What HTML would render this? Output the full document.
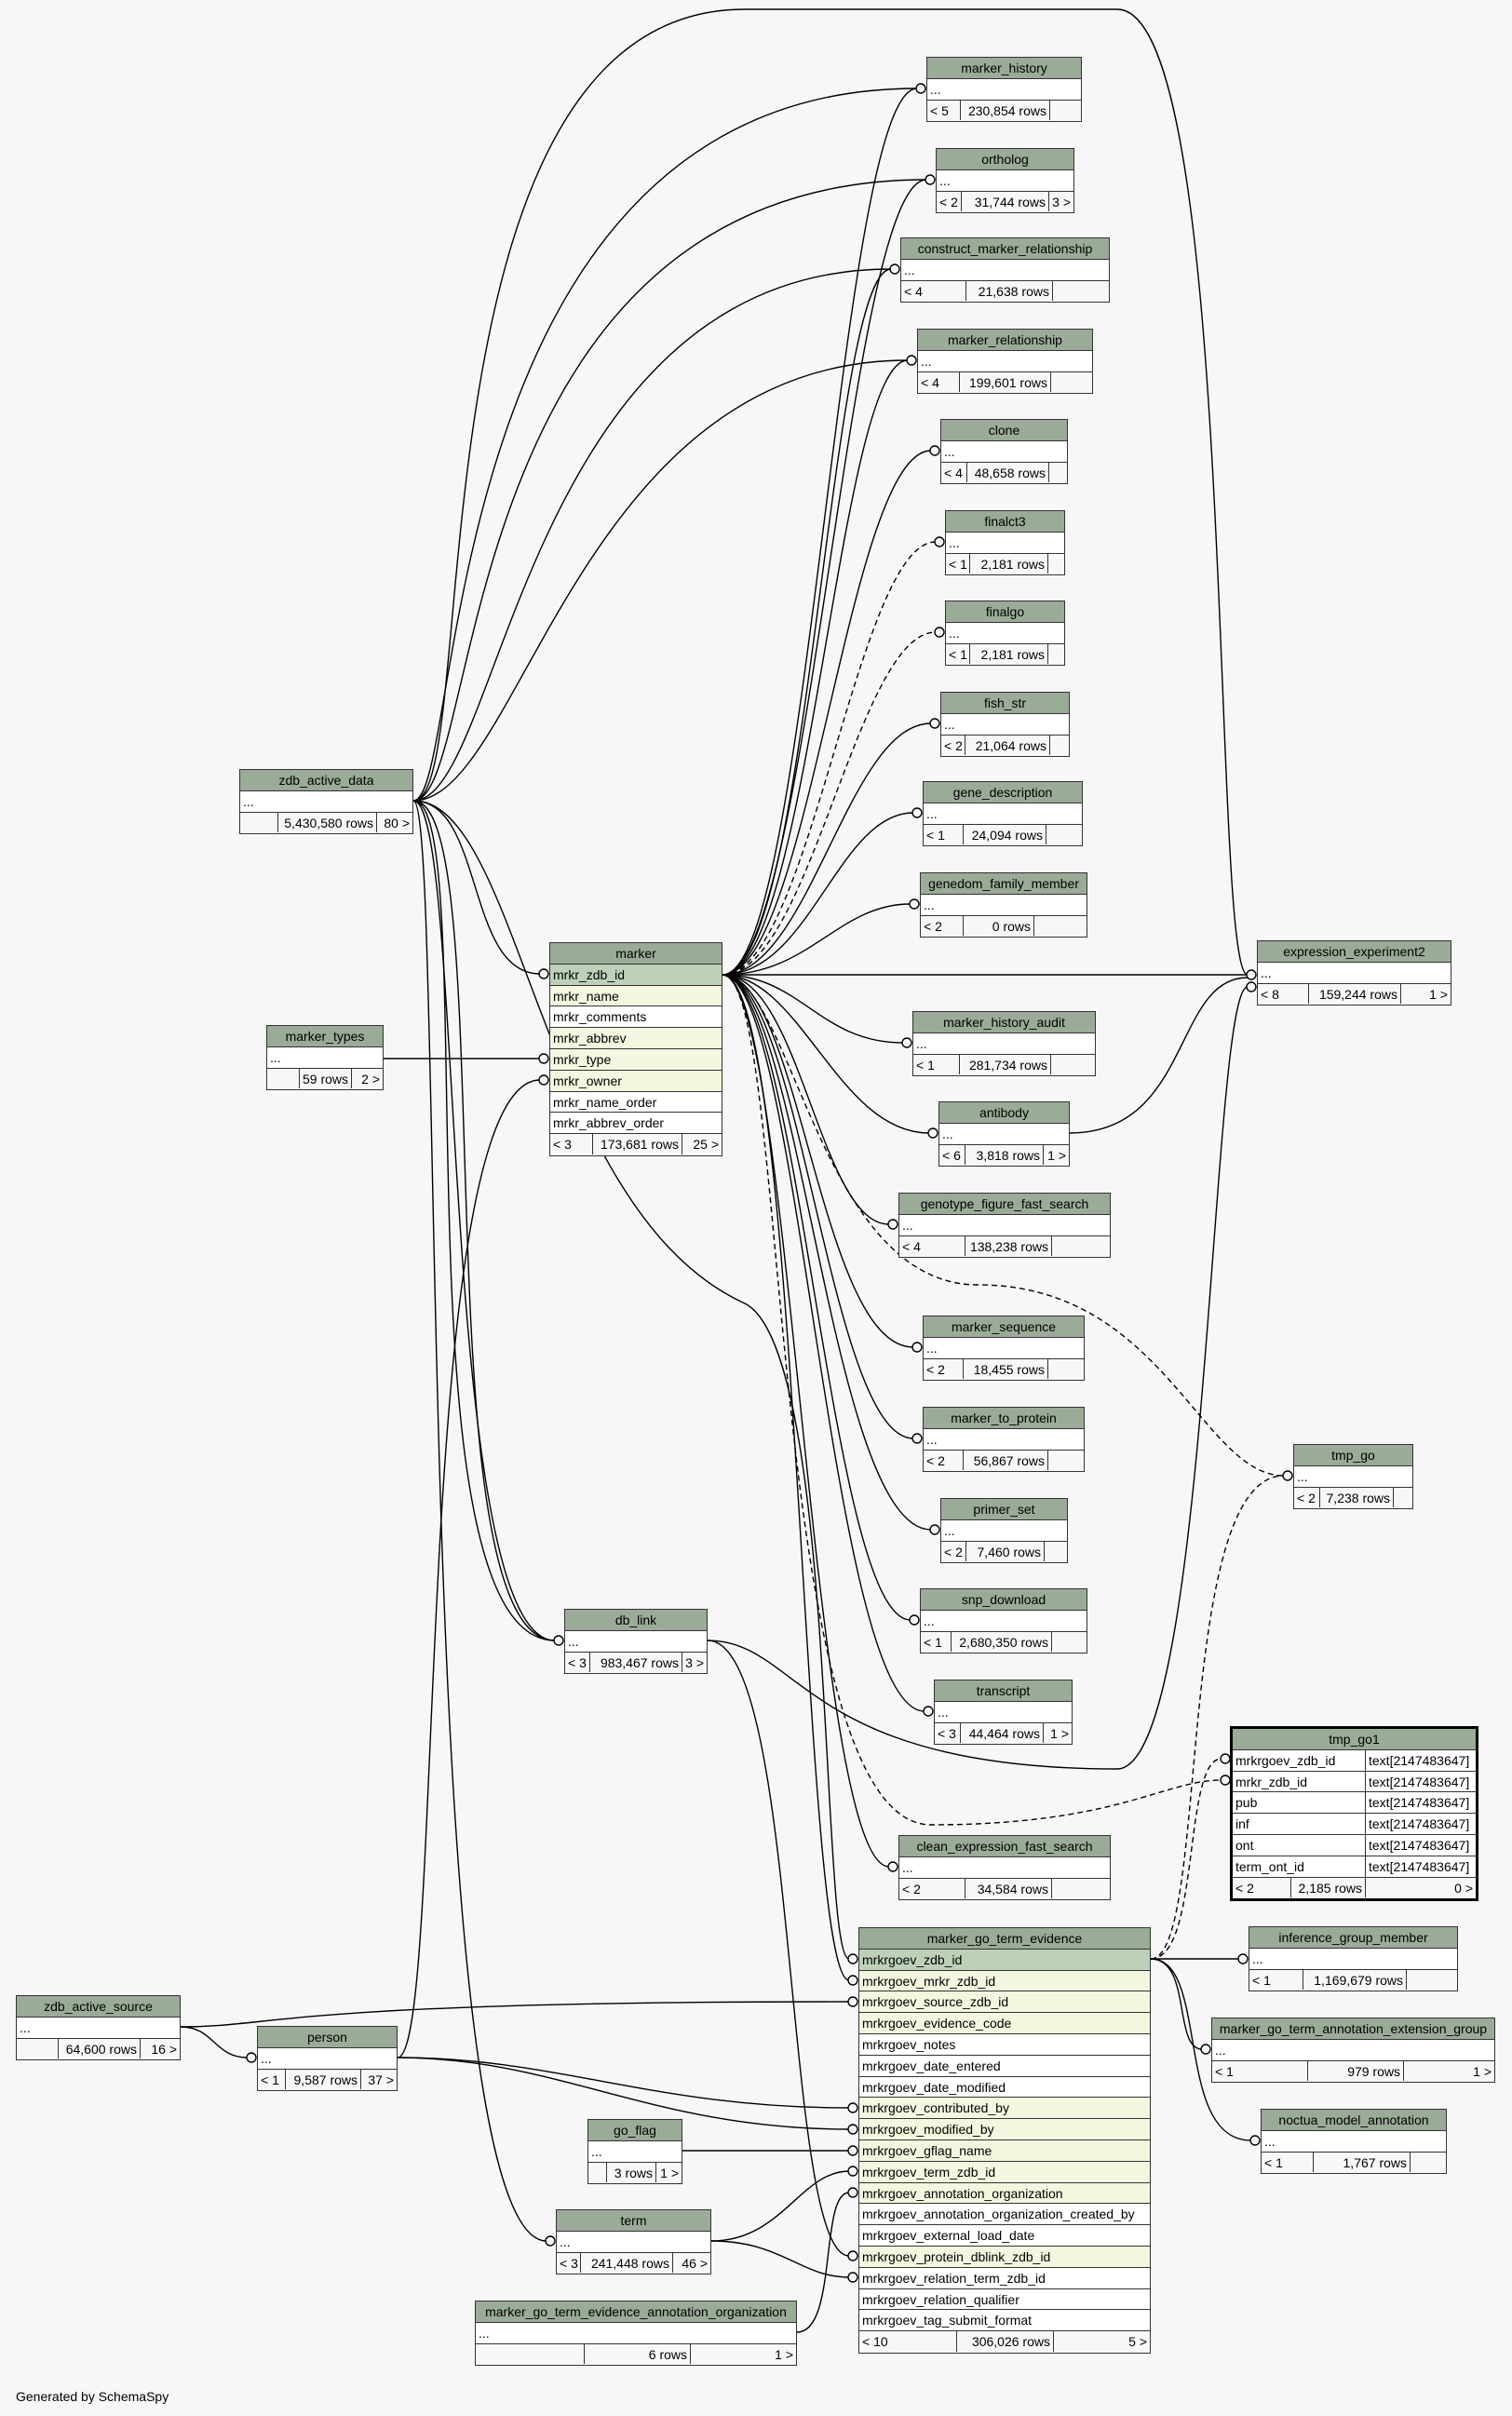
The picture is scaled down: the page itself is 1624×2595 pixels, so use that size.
<!DOCTYPE html>
<html><head><meta charset="utf-8">
<style>
body{margin:0;width:1624px;height:2595px;background:#f7f7f7;position:relative;overflow:hidden;font-family:"Liberation Sans",sans-serif;font-size:14px;color:#000}
.t{position:absolute;border:1.5px solid #333;background:#fff;box-sizing:border-box}
.t.b{border:3px solid #000}
.t div{height:22.8px;line-height:22px;box-sizing:border-box;border-bottom:1px solid #333;white-space:nowrap;overflow:hidden}
.t div:last-child{border-bottom:none}
.h{background:#9aab97;text-align:center}
.r{padding-left:3px}
.k{background:#bed1b8}
.f{background:#f4f7df}
.t .ft{display:flex;background:#f7f7f7;padding:0}
.ft span{display:block;border-right:1px solid #333;box-sizing:border-box;padding:0 3px;height:21.8px}
.ft span:last-child{border-right:none;flex:1;text-align:right}
.ft span:nth-child(2){text-align:right}
.t .two{display:flex;padding:0}
.two span{display:block;box-sizing:border-box;padding:0 3px;height:21.8px}
.two span:first-child{width:143px;border-right:1px solid #333}
svg{position:absolute;left:0;top:0}
#gen{position:absolute;left:17px;top:2566px}
</style></head><body>
<svg width="1624" height="2595" fill="none" stroke="#000" stroke-width="1.4">
<g>
<path d="M776,1047 C870,1047 900,95 985,95"/>
<path d="M776,1047 C870,1047 910,193 995,193"/>
<path d="M776,1047 C870,1047 890,289 957,289"/>
<path d="M776,1047 C870,1047 900,387 975,387"/>
<path d="M776,1047 C870,1047 910,484 1000,484"/>
<path d="M776,1047 C870,1047 920,582 1005,582" stroke-dasharray="6,4"/>
<path d="M776,1047 C870,1047 920,679 1005,679" stroke-dasharray="6,4"/>
<path d="M776,1047 C870,1047 910,777 1000,777"/>
<path d="M776,1047 C870,1047 900,873 981,873"/>
<path d="M776,1047 C870,1047 900,971 978,971"/>
<path d="M776,1047 L1340,1047"/>
<path d="M776,1047 C860,1047 880,1120 970,1120"/>
<path d="M776,1047 C860,1047 900,1217 998,1217"/>
<path d="M776,1047 C860,1047 880,1315 955,1315"/>
<path d="M776,1047 C860,1047 880,1447 981,1447"/>
<path d="M776,1047 C860,1047 890,1545 981,1545"/>
<path d="M776,1047 C860,1047 890,1643 1000,1643"/>
<path d="M776,1047 C860,1047 890,1740 978,1740"/>
<path d="M776,1047 C860,1047 890,1838 993,1838"/>
<path d="M776,1047 C850,1047 870,2005 955,2005"/>
<path d="M776,1047 C850,1047 880,1380 1050,1380 C1250,1380 1290,1585 1379,1585" stroke-dasharray="6,4"/>
<path d="M776,1047 C850,1047 820,1960 1000,1960 C1200,1960 1250,1912 1312,1912" stroke-dasharray="6,4"/>
<path d="M776,1047 C860,1047 860,2127 912,2127"/>
<path d="M444,860 C500,860 460,95 985,95"/>
<path d="M444,860 C520,860 480,193 995,193"/>
<path d="M444,860 C540,860 560,289 957,289"/>
<path d="M444,860 C560,860 620,387 975,387"/>
<path d="M444,860 C520,860 430,10 800,10 L1200,10 C1330,10 1300,1047 1340,1047"/>
<path d="M444,860 C520,860 500,1046 580,1046"/>
<path d="M444,860 C520,860 420,1762 596,1762"/>
<path d="M444,860 C500,860 470,1762 596,1762"/>
<path d="M444,860 C540,860 450,1762 596,1762"/>
<path d="M444,860 C480,860 440,2407 587,2407"/>
<path d="M444,860 C560,860 580,1300 800,1400 C900,1450 880,2104 912,2104"/>
<path d="M412,1137 L580,1137"/>
<path d="M427,2210 C480,2210 440,1160 580,1160"/>
<path d="M427,2210 C600,2210 700,2264 912,2264"/>
<path d="M427,2210 C600,2210 700,2287 912,2287"/>
<path d="M194,2177 C230,2177 230,2210 266,2210"/>
<path d="M194,2177 C300,2177 300,2150 912,2150"/>
<path d="M733,2310 L912,2310"/>
<path d="M764,2407 C840,2407 860,2332 912,2332"/>
<path d="M764,2407 C840,2407 860,2446 912,2446"/>
<path d="M856,2505 C900,2505 880,2355 912,2355"/>
<path d="M760,1762 C860,1762 840,2423 912,2423"/>
<path d="M760,1762 C860,1762 860,1900 1200,1900 C1300,1900 1300,1060 1340,1060"/>
<path d="M1149,1217 C1280,1217 1260,1050 1340,1050"/>
<path d="M1236,2104 L1331,2104"/>
<path d="M1236,2104 C1280,2104 1260,2201 1291,2201"/>
<path d="M1236,2104 C1300,2104 1260,2299 1344,2299"/>
<path d="M1236,2104 C1290,2104 1270,1889 1312,1889" stroke-dasharray="6,4"/>
<path d="M1236,2104 C1300,2104 1260,1585 1379,1585" stroke-dasharray="6,4"/>
</g>
<g fill="#f7f7f7">
<circle cx="989" cy="95" r="5"/><circle cx="999" cy="193" r="5"/><circle cx="961" cy="289" r="5"/><circle cx="979" cy="387" r="5"/>
<circle cx="1004" cy="484" r="5"/><circle cx="1009" cy="582" r="5"/><circle cx="1009" cy="679" r="5"/><circle cx="1004" cy="777" r="5"/>
<circle cx="985" cy="873" r="5"/><circle cx="982" cy="971" r="5"/><circle cx="1344" cy="1047" r="5"/><circle cx="974" cy="1120" r="5"/>
<circle cx="1002" cy="1217" r="5"/><circle cx="959" cy="1315" r="5"/><circle cx="985" cy="1447" r="5"/><circle cx="985" cy="1545" r="5"/>
<circle cx="1004" cy="1643" r="5"/><circle cx="982" cy="1740" r="5"/><circle cx="997" cy="1838" r="5"/><circle cx="959" cy="2005" r="5"/>
<circle cx="1383" cy="1585" r="5"/><circle cx="1316" cy="1912" r="5"/><circle cx="1316" cy="1889" r="5"/>
<circle cx="584" cy="1046" r="5"/><circle cx="584" cy="1137" r="5"/><circle cx="584" cy="1160" r="5"/>
<circle cx="600" cy="1762" r="5"/><circle cx="591" cy="2407" r="5"/><circle cx="270" cy="2210" r="5"/>
<circle cx="916" cy="2104" r="5"/><circle cx="916" cy="2127" r="5"/><circle cx="916" cy="2150" r="5"/><circle cx="916" cy="2264" r="5"/>
<circle cx="916" cy="2287" r="5"/><circle cx="916" cy="2310" r="5"/><circle cx="916" cy="2332" r="5"/><circle cx="916" cy="2355" r="5"/>
<circle cx="916" cy="2423" r="5"/><circle cx="916" cy="2446" r="5"/>
<circle cx="1335" cy="2104" r="5"/><circle cx="1295" cy="2201" r="5"/><circle cx="1348" cy="2299" r="5"/>
<circle cx="1344" cy="1060" r="5"/>
</g>
</svg>

<div class="t" style="left:995px;top:61px;width:167px"><div class="h">marker_history</div><div class="r">...</div><div class="ft"><span style="width:36px">&lt; 5</span><span style="width:96px">230,854 rows</span><span></span></div></div>
<div class="t" style="left:1005px;top:159px;width:149px"><div class="h">ortholog</div><div class="r">...</div><div class="ft"><span style="width:27px">&lt; 2</span><span style="width:94px">31,744 rows</span><span>3 &gt;</span></div></div>
<div class="t" style="left:967px;top:255px;width:225px"><div class="h">construct_marker_relationship</div><div class="r">...</div><div class="ft"><span style="width:70px">&lt; 4</span><span style="width:93px">21,638 rows</span><span></span></div></div>
<div class="t" style="left:985px;top:353px;width:189px"><div class="h">marker_relationship</div><div class="r">...</div><div class="ft"><span style="width:45px">&lt; 4</span><span style="width:98px">199,601 rows</span><span></span></div></div>
<div class="t" style="left:1010px;top:450px;width:137px"><div class="h">clone</div><div class="r">...</div><div class="ft"><span style="width:28px">&lt; 4</span><span style="width:88px">48,658 rows</span><span></span></div></div>
<div class="t" style="left:1015px;top:548px;width:129px"><div class="h">finalct3</div><div class="r">...</div><div class="ft"><span style="width:26px">&lt; 1</span><span style="width:84px">2,181 rows</span><span></span></div></div>
<div class="t" style="left:1015px;top:645px;width:129px"><div class="h">finalgo</div><div class="r">...</div><div class="ft"><span style="width:26px">&lt; 1</span><span style="width:84px">2,181 rows</span><span></span></div></div>
<div class="t" style="left:1010px;top:743px;width:139px"><div class="h">fish_str</div><div class="r">...</div><div class="ft"><span style="width:26px">&lt; 2</span><span style="width:91px">21,064 rows</span><span></span></div></div>
<div class="t" style="left:991px;top:839px;width:172px"><div class="h">gene_description</div><div class="r">...</div><div class="ft"><span style="width:43px">&lt; 1</span><span style="width:89px">24,094 rows</span><span></span></div></div>
<div class="t" style="left:988px;top:937px;width:180px"><div class="h">genedom_family_member</div><div class="r">...</div><div class="ft"><span style="width:46px">&lt; 2</span><span style="width:76px">0 rows</span><span></span></div></div>
<div class="t" style="left:980px;top:1086px;width:197px"><div class="h">marker_history_audit</div><div class="r">...</div><div class="ft"><span style="width:50px">&lt; 1</span><span style="width:98px">281,734 rows</span><span></span></div></div>
<div class="t" style="left:1008px;top:1183px;width:141px"><div class="h">antibody</div><div class="r">...</div><div class="ft"><span style="width:28px">&lt; 6</span><span style="width:84px">3,818 rows</span><span>1 &gt;</span></div></div>
<div class="t" style="left:965px;top:1281px;width:228px"><div class="h">genotype_figure_fast_search</div><div class="r">...</div><div class="ft"><span style="width:71px">&lt; 4</span><span style="width:93px">138,238 rows</span><span></span></div></div>
<div class="t" style="left:991px;top:1413px;width:174px"><div class="h">marker_sequence</div><div class="r">...</div><div class="ft"><span style="width:43px">&lt; 2</span><span style="width:91px">18,455 rows</span><span></span></div></div>
<div class="t" style="left:991px;top:1511px;width:174px"><div class="h">marker_to_protein</div><div class="r">...</div><div class="ft"><span style="width:43px">&lt; 2</span><span style="width:91px">56,867 rows</span><span></span></div></div>
<div class="t" style="left:1010px;top:1609px;width:137px"><div class="h">primer_set</div><div class="r">...</div><div class="ft"><span style="width:27px">&lt; 2</span><span style="width:84px">7,460 rows</span><span></span></div></div>
<div class="t" style="left:988px;top:1706px;width:180px"><div class="h">snp_download</div><div class="r">...</div><div class="ft"><span style="width:33px">&lt; 1</span><span style="width:108px">2,680,350 rows</span><span></span></div></div>
<div class="t" style="left:1003px;top:1804px;width:149px"><div class="h">transcript</div><div class="r">...</div><div class="ft"><span style="width:28px">&lt; 3</span><span style="width:89px">44,464 rows</span><span>1 &gt;</span></div></div>
<div class="t" style="left:965px;top:1971px;width:228px"><div class="h">clean_expression_fast_search</div><div class="r">...</div><div class="ft"><span style="width:71px">&lt; 2</span><span style="width:93px">34,584 rows</span><span></span></div></div>
<div class="t" style="left:1350px;top:1010px;width:209px"><div class="h">expression_experiment2</div><div class="r">...</div><div class="ft"><span style="width:55px">&lt; 8</span><span style="width:99px">159,244 rows</span><span>1 &gt;</span></div></div>
<div class="t" style="left:1389px;top:1551px;width:129px"><div class="h">tmp_go</div><div class="r">...</div><div class="ft"><span style="width:28px">&lt; 2</span><span style="width:79px">7,238 rows</span><span></span></div></div>
<div class="t b" style="left:1321px;top:1854px;width:267px"><div class="h">tmp_go1</div>
<div class="two"><span>mrkrgoev_zdb_id</span><span>text[2147483647]</span></div>
<div class="two"><span>mrkr_zdb_id</span><span>text[2147483647]</span></div>
<div class="two"><span>pub</span><span>text[2147483647]</span></div>
<div class="two"><span>inf</span><span>text[2147483647]</span></div>
<div class="two"><span>ont</span><span>text[2147483647]</span></div>
<div class="two"><span>term_ont_id</span><span>text[2147483647]</span></div>
<div class="ft"><span style="width:63px">&lt; 2</span><span style="width:80px">2,185 rows</span><span>0 &gt;</span></div></div>
<div class="t" style="left:1341px;top:2069px;width:225px"><div class="h">inference_group_member</div><div class="r">...</div><div class="ft"><span style="width:58px">&lt; 1</span><span style="width:111px">1,169,679 rows</span><span></span></div></div>
<div class="t" style="left:1301px;top:2167px;width:305px"><div class="h">marker_go_term_annotation_extension_group</div><div class="r">...</div><div class="ft"><span style="width:103px">&lt; 1</span><span style="width:103px">979 rows</span><span>1 &gt;</span></div></div>
<div class="t" style="left:1354px;top:2265px;width:200px"><div class="h">noctua_model_annotation</div><div class="r">...</div><div class="ft"><span style="width:56px">&lt; 1</span><span style="width:104px">1,767 rows</span><span></span></div></div>
<div class="t" style="left:257px;top:826px;width:187px"><div class="h">zdb_active_data</div><div class="r">...</div><div class="ft"><span style="width:41px"></span><span style="width:106px">5,430,580 rows</span><span>80 &gt;</span></div></div>
<div class="t" style="left:286px;top:1101px;width:126px"><div class="h">marker_types</div><div class="r">...</div><div class="ft"><span style="width:35px"></span><span style="width:56px">59 rows</span><span>2 &gt;</span></div></div>
<div class="t" style="left:590px;top:1012px;width:186px"><div class="h">marker</div>
<div class="r k">mrkr_zdb_id</div><div class="r f">mrkr_name</div><div class="r">mrkr_comments</div><div class="r f">mrkr_abbrev</div><div class="r f">mrkr_type</div><div class="r f">mrkr_owner</div><div class="r">mrkr_name_order</div><div class="r">mrkr_abbrev_order</div>
<div class="ft"><span style="width:46px">&lt; 3</span><span style="width:96px">173,681 rows</span><span>25 &gt;</span></div></div>
<div class="t" style="left:606px;top:1728px;width:154px"><div class="h">db_link</div><div class="r">...</div><div class="ft"><span style="width:27px">&lt; 3</span><span style="width:99px">983,467 rows</span><span>3 &gt;</span></div></div>
<div class="t" style="left:17px;top:2143px;width:177px"><div class="h">zdb_active_source</div><div class="r">...</div><div class="ft"><span style="width:45px"></span><span style="width:88px">64,600 rows</span><span>16 &gt;</span></div></div>
<div class="t" style="left:276px;top:2176px;width:151px"><div class="h">person</div><div class="r">...</div><div class="ft"><span style="width:30px">&lt; 1</span><span style="width:81px">9,587 rows</span><span>37 &gt;</span></div></div>
<div class="t" style="left:631px;top:2276px;width:102px"><div class="h">go_flag</div><div class="r">...</div><div class="ft"><span style="width:20px"></span><span style="width:53px">3 rows</span><span>1 &gt;</span></div></div>
<div class="t" style="left:597px;top:2373px;width:167px"><div class="h">term</div><div class="r">...</div><div class="ft"><span style="width:26px">&lt; 3</span><span style="width:99px">241,448 rows</span><span>46 &gt;</span></div></div>
<div class="t" style="left:510px;top:2471px;width:346px"><div class="h">marker_go_term_evidence_annotation_organization</div><div class="r">...</div><div class="ft"><span style="width:117px"></span><span style="width:114px">6 rows</span><span>1 &gt;</span></div></div>
<div class="t" style="left:922px;top:2070px;width:314px"><div class="h">marker_go_term_evidence</div>
<div class="r k">mrkrgoev_zdb_id</div>
<div class="r f">mrkrgoev_mrkr_zdb_id</div>
<div class="r f">mrkrgoev_source_zdb_id</div>
<div class="r f">mrkrgoev_evidence_code</div>
<div class="r">mrkrgoev_notes</div>
<div class="r">mrkrgoev_date_entered</div>
<div class="r">mrkrgoev_date_modified</div>
<div class="r f">mrkrgoev_contributed_by</div>
<div class="r f">mrkrgoev_modified_by</div>
<div class="r f">mrkrgoev_gflag_name</div>
<div class="r f">mrkrgoev_term_zdb_id</div>
<div class="r f">mrkrgoev_annotation_organization</div>
<div class="r">mrkrgoev_annotation_organization_created_by</div>
<div class="r">mrkrgoev_external_load_date</div>
<div class="r f">mrkrgoev_protein_dblink_zdb_id</div>
<div class="r">mrkrgoev_relation_term_zdb_id</div>
<div class="r">mrkrgoev_relation_qualifier</div>
<div class="r">mrkrgoev_tag_submit_format</div>
<div class="ft"><span style="width:105px">&lt; 10</span><span style="width:104px">306,026 rows</span><span>5 &gt;</span></div></div>
<div id="gen">Generated by SchemaSpy</div>
</body></html>
